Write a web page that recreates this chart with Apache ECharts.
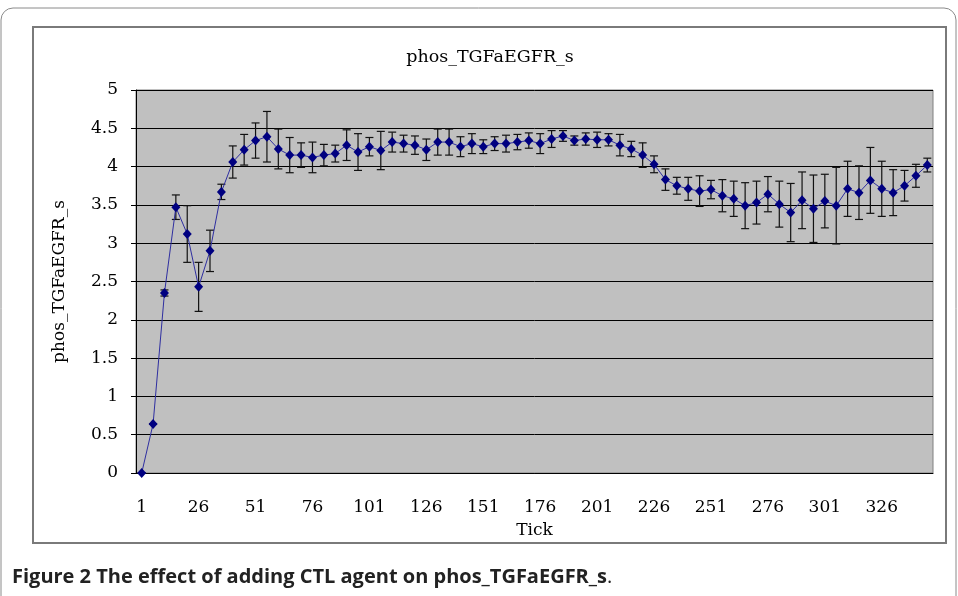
<!DOCTYPE html>
<html>
<head>
<meta charset="utf-8">
<script src="https://cdn.jsdelivr.net/npm/echarts@6/dist/echarts.min.js"></script>
<style>
html,body{margin:0;padding:0;background:#fff;}
#chart{width:958px;height:596px;}
</style>
</head>
<body>
<div id="chart"></div>
<script>
// Tick categories (every 5 ticks)
var ticks = [1,6,11,16,21,26,31,36,41,46,51,56,61,66,71,76,81,86,91,96,
             101,106,111,116,121,126,131,136,141,146,151,156,161,166,171,176,181,186,191,196,
             201,206,211,216,221,226,231,236,241,246,251,256,261,266,271,276,281,286,291,296,
             301,306,311,316,321,326,331,336,341,346];
// Mean values of phos_TGFaEGFR_s
var means = [0,0.64,2.35,3.47,3.12,2.43,2.90,3.67,4.06,4.22,
             4.34,4.39,4.23,4.15,4.15,4.12,4.15,4.17,4.28,4.19,
             4.26,4.21,4.32,4.30,4.28,4.22,4.32,4.32,4.26,4.30,
             4.26,4.30,4.30,4.32,4.34,4.30,4.36,4.40,4.34,4.36,
             4.35,4.35,4.28,4.23,4.15,4.03,3.83,3.75,3.71,3.68,
             3.70,3.62,3.58,3.49,3.53,3.64,3.51,3.40,3.56,3.45,
             3.55,3.49,3.71,3.66,3.82,3.71,3.66,3.75,3.88,4.02];
// Error bar half-widths
var errs = [0,0,0.04,0.16,0.37,0.32,0.27,0.10,0.21,0.20,
            0.23,0.33,0.26,0.23,0.16,0.20,0.14,0.11,0.20,0.24,
            0.12,0.25,0.13,0.11,0.12,0.14,0.17,0.17,0.13,0.13,
            0.09,0.09,0.11,0.10,0.10,0.13,0.11,0.07,0.06,0.08,
            0.10,0.08,0.14,0.10,0.16,0.11,0.14,0.11,0.15,0.20,
            0.12,0.21,0.23,0.30,0.28,0.23,0.30,0.38,0.37,0.44,
            0.35,0.50,0.36,0.35,0.43,0.36,0.30,0.20,0.15,0.09];
var yTicks = [0,0.5,1,1.5,2,2.5,3,3.5,4,4.5,5];

var errData = means.map(function(m,i){ return [i, m - errs[i], m + errs[i]]; });

var serif = 'DejaVu Serif';
var chart = echarts.init(document.getElementById('chart'), null, {renderer:'canvas'});
chart.setOption({
  animation:false,
  backgroundColor:'#fff',
  grid:{left:136,right:25,top:90,bottom:123,show:true,backgroundColor:'#c0c0c0',borderColor:'#808080',borderWidth:1},
  xAxis:{
    type:'category',
    data:ticks.map(String),
    boundaryGap:true,
    name:'Tick',
    nameLocation:'middle',
    nameGap:49,
    nameTextStyle:{fontFamily:serif,fontSize:17,color:'#000'},
    axisLine:{lineStyle:{color:'#000',width:1}},
    axisTick:{inside:true,length:7,interval:4,lineStyle:{color:'#000'}},
    axisLabel:{interval:4,margin:26,fontFamily:serif,fontSize:17,color:'#000'},
    splitLine:{show:false}
  },
  yAxis:{
    type:'value',
    min:yTicks[0],
    max:yTicks[yTicks.length-1],
    interval:0.5,
    name:'phos_TGFaEGFR_s',
    nameLocation:'middle',
    nameGap:68,
    nameRotate:90,
    nameTextStyle:{fontFamily:serif,fontSize:17,color:'#000'},
    axisLine:{show:true,lineStyle:{color:'#000',width:1}},
    axisTick:{show:true,length:5,lineStyle:{color:'#000'}},
    axisLabel:{margin:18,fontFamily:serif,fontSize:17,color:'#000'},
    splitLine:{show:true,lineStyle:{color:'#000',width:1}}
  },
  series:[
    {
      type:'custom',
      z:2,
      data:errData,
      renderItem:function(params, api){
        var x = api.value(0);
        var lo = api.coord([x, api.value(1)]);
        var hi = api.coord([x, api.value(2)]);
        var hw = 4;
        var st = {stroke:'#111',lineWidth:1.2};
        return {type:'group',children:[
          {type:'line',shape:{x1:hi[0],y1:hi[1],x2:lo[0],y2:lo[1]},style:st},
          {type:'line',shape:{x1:hi[0]-hw,y1:hi[1],x2:hi[0]+hw,y2:hi[1]},style:st},
          {type:'line',shape:{x1:lo[0]-hw,y1:lo[1],x2:lo[0]+hw,y2:lo[1]},style:st}
        ]};
      }
    },
    {
      type:'line',
      z:3,
      data:means,
      symbol:'diamond',
      symbolSize:[9,10],
      showAllSymbol:true,
      lineStyle:{color:'#2e2ea0',width:1},
      itemStyle:{color:'#000080',borderWidth:0}
    }
  ],
  graphic:[
    {type:'rect',shape:{x:1,y:8,width:955,height:640,r:12},style:{fill:'none',stroke:'#8a8a8a',lineWidth:1},silent:true},
    {type:'rect',shape:{x:33,y:27,width:913,height:516},style:{fill:'none',stroke:'#7a7a7a',lineWidth:2},silent:true},
    {type:'text',x:490,y:57,style:{text:'phos_TGFaEGFR_s',fontFamily:serif,fontSize:17.5,fill:'#000',textAlign:'center',textVerticalAlign:'middle'}},
    {type:'text',x:12,y:577,style:{
      text:'{b|Figure 2 The effect of adding CTL agent on phos_TGFaEGFR_s}{n|.}',
      textVerticalAlign:'middle',
      rich:{
        b:{fontFamily:'Open Sans',fontWeight:'bold',fontSize:20,fill:'#222'},
        n:{fontFamily:'Open Sans',fontWeight:'normal',fontSize:20,fill:'#222'}
      }
    }}
  ]
});
</script>
</body>
</html>
